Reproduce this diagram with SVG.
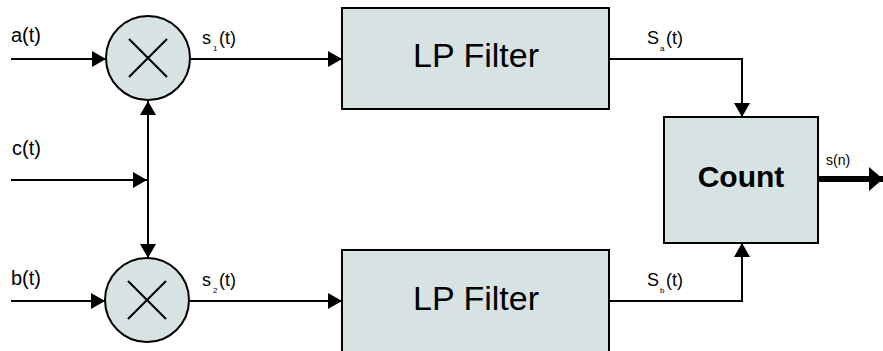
<svg xmlns="http://www.w3.org/2000/svg" width="883" height="351" viewBox="0 0 883 351">
<defs>
<style>
.shape{fill:#d7e3e3;stroke:#000;stroke-width:2}
.wire{fill:none;stroke:#000;stroke-width:2}
.thick{fill:none;stroke:#000;stroke-width:6}
.lbl{font-family:"Liberation Sans",Arial,sans-serif;fill:#000}
.sub{font-family:"Liberation Sans",Arial,sans-serif;fill:#000;font-size:8px}
</style>
<marker id="arr" viewBox="0 0 14 16" refX="14" refY="8" markerWidth="14" markerHeight="16" markerUnits="userSpaceOnUse" orient="auto-start-reverse">
<path d="M0,0 L14,8 L0,16 Z" fill="#000"/>
</marker>
<marker id="bigarr" viewBox="0 0 14 24" refX="14" refY="12" markerWidth="14" markerHeight="24" markerUnits="userSpaceOnUse" orient="auto">
<path d="M0,0 L14,12 L0,24 Z" fill="#000"/>
</marker>
</defs>
<rect width="883" height="351" fill="#fff"/>
<g id="connectors">
<line class="wire" x1="11" y1="59" x2="106" y2="59" marker-end="url(#arr)"/>
<line class="wire" x1="11" y1="301" x2="105" y2="301" marker-end="url(#arr)"/>
<line class="wire" x1="11" y1="180" x2="147" y2="180" marker-end="url(#arr)"/>
<line class="wire" x1="148" y1="101" x2="148" y2="258" marker-start="url(#arr)" marker-end="url(#arr)"/>
<line class="wire" x1="190" y1="59" x2="342" y2="59" marker-end="url(#arr)"/>
<line class="wire" x1="189" y1="301" x2="342" y2="301" marker-end="url(#arr)"/>
<polyline class="wire" points="609,59 742,59 742,117" marker-end="url(#arr)"/>
<polyline class="wire" points="609,301 742,301 742,243" marker-end="url(#arr)"/>
<line class="thick" x1="818" y1="179" x2="883" y2="179" marker-end="url(#bigarr)"/>
</g>
<g id="mult1">
<circle class="shape" cx="148" cy="58" r="42"/>
<path class="wire" d="M129,39 L167,77 M167,39 L129,77"/>
</g>
<g id="mult2">
<circle class="shape" cx="147" cy="300" r="42"/>
<path class="wire" d="M128,281 L166,319 M166,281 L128,319"/>
</g>
<g id="lp1">
<rect class="shape" x="342" y="8" width="267" height="101"/>
<text class="lbl" x="476" y="67" font-size="34" text-anchor="middle">LP Filter</text>
</g>
<g id="lp2">
<rect class="shape" x="342" y="250" width="267" height="110"/>
<text class="lbl" x="476" y="310" font-size="34" text-anchor="middle">LP Filter</text>
</g>
<g id="count">
<rect class="shape" x="664" y="117" width="154" height="126"/>
<text class="lbl" x="741" y="187" font-size="30" font-weight="bold" text-anchor="middle">Count</text>
</g>
<g id="labels">
<text class="lbl" x="11" y="42" font-size="20">a(t)</text>
<text class="lbl" x="12" y="155" font-size="20">c(t)</text>
<text class="lbl" x="11" y="285" font-size="20">b(t)</text>
<text class="lbl" x="202" y="44" font-size="18">s</text><text class="sub" x="213" y="51" font-size="7">1</text><text class="lbl" x="219" y="44" font-size="18">(t)</text>
<text class="lbl" x="202" y="286" font-size="18">s</text><text class="sub" x="213" y="293" font-size="7">2</text><text class="lbl" x="219" y="286" font-size="18">(t)</text>
<text class="lbl" x="647" y="44" font-size="18">S</text><text class="sub" x="660" y="51">a</text><text class="lbl" x="666" y="44" font-size="18">(t)</text>
<text class="lbl" x="647" y="286" font-size="18">S</text><text class="sub" x="660" y="293">b</text><text class="lbl" x="666" y="286" font-size="18">(t)</text>
<text class="lbl" x="826" y="165" font-size="14">s(n)</text>
</g>
</svg>
